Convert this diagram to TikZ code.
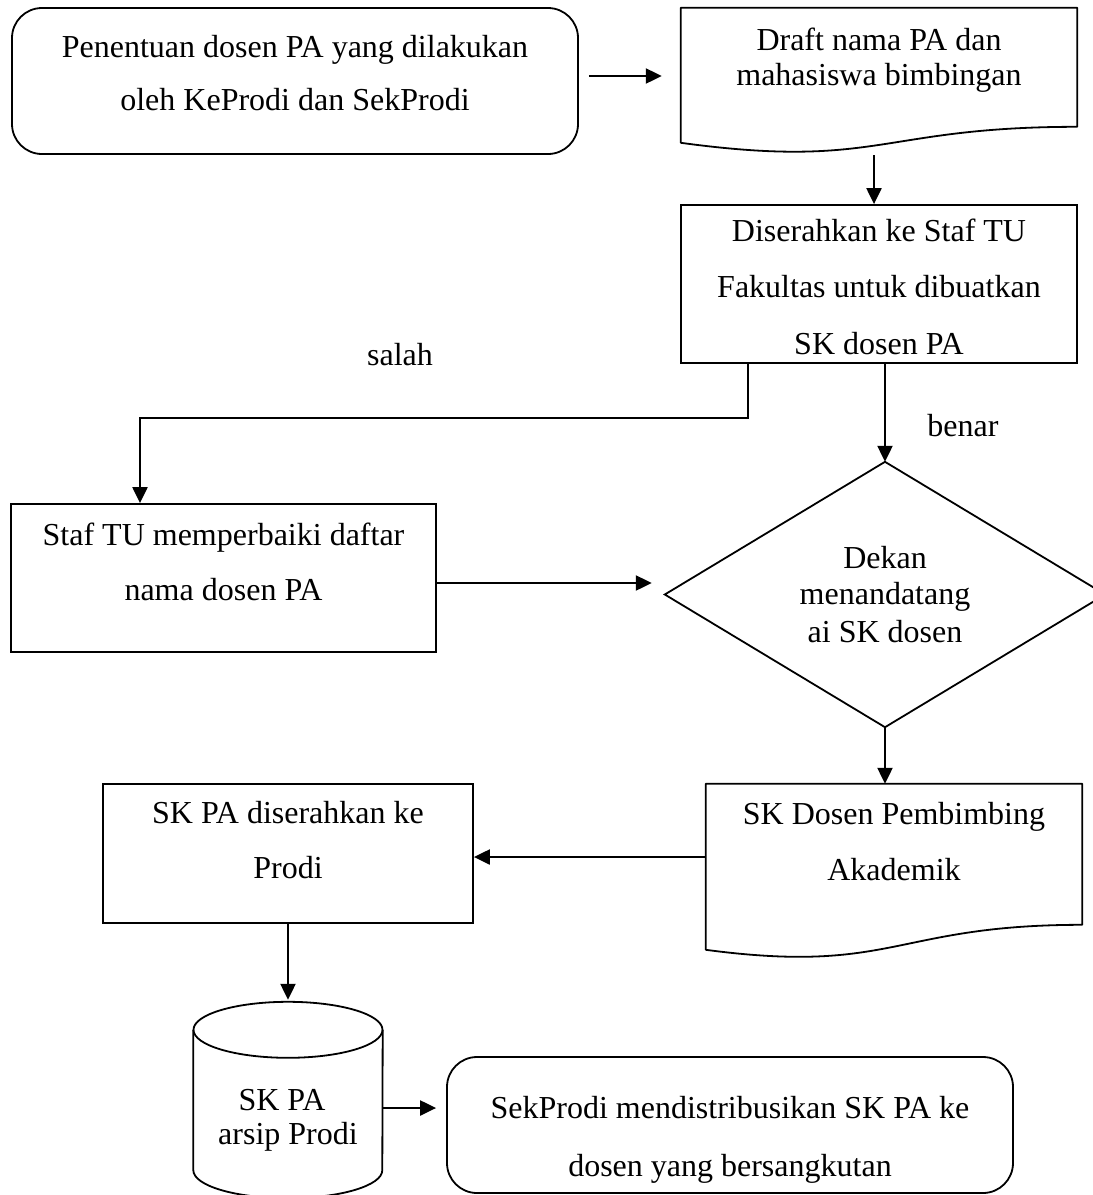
\documentclass[tikz,border=0pt]{standalone}
\usepackage{fontspec}
\setmainfont{Liberation Serif}
\usetikzlibrary{arrows.meta,calc}

\begin{document}
\begin{tikzpicture}[x=1pt,y=-1pt,
  outline/.style={draw=black, line width=1.8pt},
  blk/.style={outline, rectangle, inner sep=0pt},
  rblk/.style={blk, rounded corners=30pt},
  frame/.style={rectangle, inner sep=0pt},
  lbl/.style={anchor=base, inner sep=0pt, font=\fontsize{32}{38}\selectfont},
  arr/.style={-{Triangle[length=16pt,width=15pt]}, line width=2.2pt},
]
\useasboundingbox (0,0) rectangle (1093,1195);

% ---------- shapes ----------
\node[rblk, minimum width=566pt, minimum height=146pt] (b1) at (295,81) {};

\node[frame, minimum width=396pt, minimum height=144pt] (d1) at (879,80) {};
\draw[outline, line join=round] (d1.north west) -- (d1.north east) -- ($(d1.north east)+(0,119)$)
  .. controls ($(d1.north)+(0,119)$) and ($(d1.north)+(0,162)$) .. ($(d1.north west)+(0,135)$) -- cycle;

\node[blk, minimum width=396pt, minimum height=158pt] (b2) at (879,284) {};

\node[blk, minimum width=425pt, minimum height=148pt] (b3) at (223.5,578) {};

\node[frame, minimum width=440pt, minimum height=265pt] (dm) at (885,594.5) {};
\draw[outline, line join=miter] (dm.north) -- (dm.east) -- (dm.south) -- (dm.west) -- cycle;

\node[frame, minimum width=376pt, minimum height=174pt] (d2) at (894,871) {};
\draw[outline, line join=round] (d2.north west) -- (d2.north east) -- ($(d2.north east)+(0,141)$)
  .. controls ($(d2.north)+(0,141)$) and ($(d2.north)+(0,191)$) .. ($(d2.north west)+(0,166)$) -- cycle;

\node[blk, minimum width=370pt, minimum height=139pt] (b4) at (288,853.5) {};

\node[frame, minimum width=189pt, minimum height=196pt] (cy) at (288,1100) {};
\draw[outline] ($(cy.north)+(0,28)$) ellipse [x radius=94.5pt, y radius=28pt];
\draw[outline] ($(cy.north west)+(0,28)$) -- ($(cy.south west)+(0,-28)$)
  arc[start angle=180, end angle=360, x radius=94.5pt, y radius=28pt]
  -- ($(cy.north east)+(0,28)$);

\node[rblk, minimum width=566pt, minimum height=136pt] (bb) at (730,1125) {};

% ---------- texts ----------
\node[lbl] (t1a) at (295,57) {Penentuan dosen PA yang dilakukan};
\node[lbl] (t1b) at (295,110) {oleh KeProdi dan SekProdi};
\node[lbl] (t2a) at (879,50) {Draft nama PA dan};
\node[lbl] (t2b) at (879,85) {mahasiswa bimbingan};
\node[lbl] (t3a) at (879,241) {Diserahkan ke Staf TU};
\node[lbl] (t3b) at (879,297) {Fakultas untuk dibuatkan};
\node[lbl] (t3c) at (879,354) {SK dosen PA};
\node[lbl] (salah) at (400,365) {salah};
\node[lbl] (benar) at (963,436) {benar};
\node[lbl] (t4a) at (223.5,545) {Staf TU memperbaiki daftar};
\node[lbl] (t4b) at (223.5,600) {nama dosen PA};
\node[lbl] (t5a) at (885,568) {Dekan};
\node[lbl] (t5b) at (885,604) {menandatang};
\node[lbl] (t5c) at (885,642) {ai SK dosen};
\node[lbl] (t6a) at (894,824) {SK Dosen Pembimbing};
\node[lbl] (t6b) at (894,880) {Akademik};
\node[lbl] (t7a) at (288,823) {SK PA diserahkan ke};
\node[lbl] (t7b) at (288,878) {Prodi};
\node[lbl] (t8a) at (282,1110) {SK PA};
\node[lbl] (t8b) at (288,1144) {arsip Prodi};
\node[lbl] (t9a) at (730,1118) {SekProdi mendistribusikan SK PA ke};
\node[lbl] (t9b) at (730,1176) {dosen yang bersangkutan};

% ---------- connectors ----------
\draw[arr, shorten <=10pt, shorten >=19pt] (b1.east |- 0,76) -- (d1.west |- 0,76);
\draw[arr, shorten <=3pt] (d1.south -| 874,0) -- (b2.north -| 874,0);
\draw[arr] (b2.south -| 748,0) -- (748,418) -| (b3.north -| 140,0);
\draw[arr] (b2.south -| dm.north) -- (dm.north);
\draw[arr, shorten >=13pt] (b3.east |- 0,583) -- (dm.west |- 0,583);
\draw[arr] (dm.south) -- (dm.south |- d2.north);
\draw[arr] (d2.west |- 0,857) -- (b4.east |- 0,857);
\draw[arr, shorten >=2pt] (b4.south) -- (b4.south |- cy.north);
\draw[arr, shorten >=10pt] (cy.east |- 0,1108) -- (bb.west |- 0,1108);
\end{tikzpicture}
\end{document}
